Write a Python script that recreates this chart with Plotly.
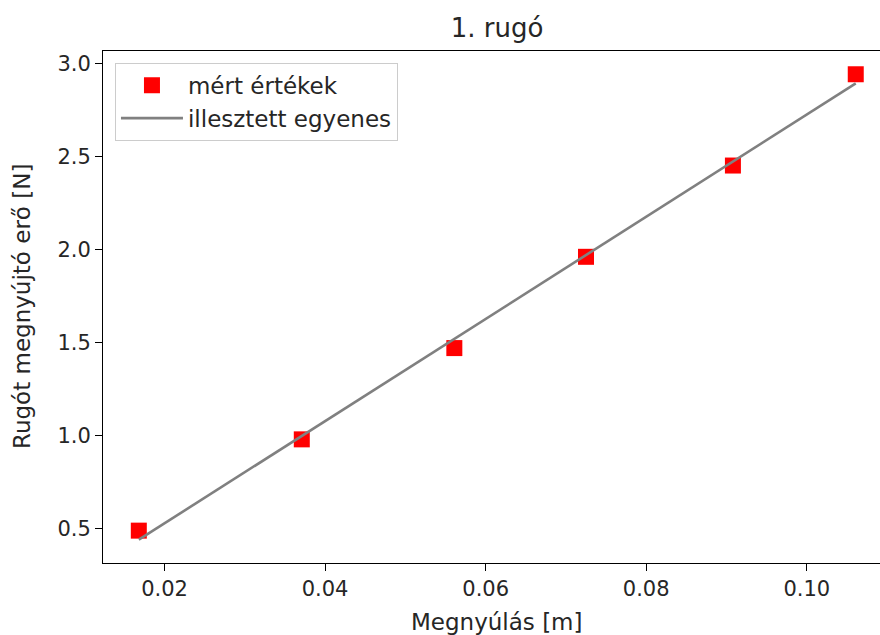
import plotly.graph_objects as go

# measured data
elongation_m = [0.0168, 0.0371, 0.0561, 0.0725, 0.0908, 0.1061]
force_N = [0.4905, 0.981, 1.4715, 1.962, 2.4525, 2.943]

# fitted line endpoints
fit_x = [0.0168, 0.1061]
fit_y = [0.442, 2.894]

x_ticks = [0.02, 0.04, 0.06, 0.08, 0.10]
x_tick_text = ["0.02", "0.04", "0.06", "0.08", "0.10"]
y_ticks = [0.5, 1.0, 1.5, 2.0, 2.5, 3.0]
y_tick_text = ["0.5", "1.0", "1.5", "2.0", "2.5", "3.0"]

FONT = "DejaVu Sans"
TXT = "#262626"

fig = go.Figure()
fig.add_trace(go.Scatter(
    x=elongation_m, y=force_N, mode="markers", name="mért értékek",
    marker=dict(symbol="square", size=16, color="#ff0000"),
    legendgroup="a",
))
fig.add_trace(go.Scatter(
    x=fit_x, y=fit_y, mode="lines", name="illesztett egyenes",
    line=dict(color="#808080", width=2.6),
    legendgroup="b",
))

fig.update_layout(
    width=880, height=635,
    margin=dict(l=103, r=0, t=51, b=72),
    plot_bgcolor="white", paper_bgcolor="white",
    font=dict(family=FONT, size=21, color=TXT),
    title=dict(text="1. rugó", x=497 / 880, xref="container", xanchor="center",
               y=1 - 28 / 635, yref="container", yanchor="middle",
               font=dict(size=26, color=TXT, family=FONT)),
    showlegend=True,
    legend=dict(x=0.0154, y=0.977, xanchor="left", yanchor="top",
                bgcolor="rgba(255,255,255,0.8)", bordercolor="#cccccc", borderwidth=1,
                font=dict(size=23, color=TXT, family=FONT),
                tracegroupgap=0, itemwidth=62),
    xaxis=dict(range=[0.01234, 0.10912], tickvals=x_ticks, ticktext=x_tick_text,
               showgrid=False, zeroline=False, showline=True, linecolor="black",
               linewidth=1, mirror=True, ticks="outside", ticklen=7, tickwidth=1,
               tickcolor="black", tickfont=dict(size=21, color=TXT)),
    yaxis=dict(range=[0.3166, 3.068], tickvals=y_ticks, ticktext=y_tick_text,
               showgrid=False, zeroline=False, showline=True, linecolor="black",
               linewidth=1, mirror=False, ticks="outside", ticklen=7, tickwidth=1,
               tickcolor="black", tickfont=dict(size=21, color=TXT)),
    annotations=[
        dict(text="Megnyúlás [m]", x=(497 - 103) / 777, xref="paper",
             y=-(622 - 563) / 512, yref="paper", xanchor="center", yanchor="middle",
             showarrow=False, font=dict(size=23, color=TXT, family=FONT)),
        dict(text="Rugót megnyújtó erő [N]", x=(22 - 103) / 777, xref="paper",
             y=0.5, yref="paper", xanchor="center", yanchor="middle", textangle=-90,
             showarrow=False, font=dict(size=23, color=TXT, family=FONT)),
    ],
)

fig.write_html("out.html")
